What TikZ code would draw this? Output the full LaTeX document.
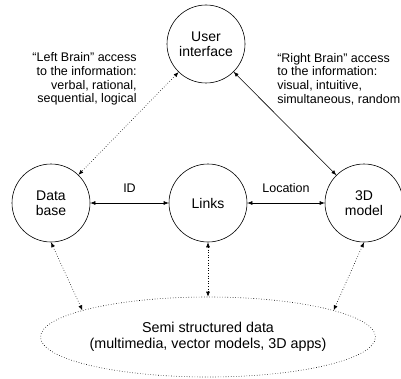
\documentclass[tikz,border=0pt]{standalone}
\usepackage{fontspec}
\setmainfont{Liberation Sans}
\usetikzlibrary{arrows.meta,shapes.geometric}

\begin{document}
\begin{tikzpicture}[x=1pt, y=1pt, line width=0.6pt,
    unit/.style = {circle, draw, minimum size=78pt, inner sep=0pt, align=center,
        font=\fontsize{14}{15}\selectfont},
    note/.style = {inner sep=0pt, font=\fontsize{12.5}{13.7}\selectfont},
    twoway/.style = {{Latex[length=5pt,width=4pt]}-{Latex[length=5pt,width=4pt]}},
    weak/.style = {twoway, dotted}]
\useasboundingbox (0,0) rectangle (401,378);
\node[unit] (ui) at (206,334) {User\\interface};
\node[unit] (db) at (51,175) {Data\\base};
\node[unit] (links) at (208,175) {Links};
\node[unit] (model) at (364,175) {3D\\model};
\node[ellipse, draw, dotted, minimum width=310pt, minimum height=80pt, inner sep=0pt,
    align=center, font=\fontsize{14.3}{16}\selectfont] (semi) at (208,41)
    {Semi structured data\\(multimedia, vector models, 3D apps)};
\node[note, align=right, anchor=east] (left) at (137,299)
    {“Left Brain” access\\to the information:\\verbal, rational,\\sequential, logical};
\node[note, align=left, anchor=west] (right) at (277,299)
    {“Right Brain” access\\to the information:\\visual, intuitive,\\simultaneous, random};
\draw[twoway] (db) -- node[note, above=10pt] {ID} (links);
\draw[twoway] (links) -- node[note, above=10pt] {Location} (model);
\draw[weak] (ui) -- (db);
\draw[twoway] (ui) -- (model);
\draw[weak] (db.south) -- (semi.168);
\draw[weak] (links) -- (semi);
\draw[weak] (model.south) -- (semi.12);
\end{tikzpicture}
\end{document}
